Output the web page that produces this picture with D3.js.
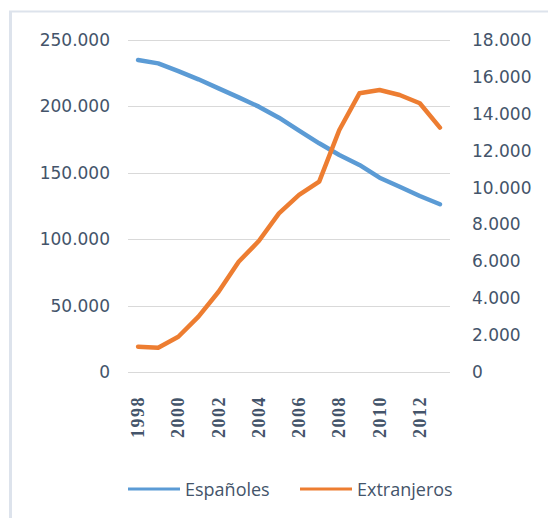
<!DOCTYPE html>
<html>
<head>
<meta charset="utf-8">
<script src="https://cdn.jsdelivr.net/npm/d3@7"></script>
<style>
  body { margin: 0; background: #fff; }
  svg { display: block; }
</style>
</head>
<body>
<svg id="chart" width="548" height="518"></svg>
<script>

const years = d3.range(1998, 2014);
const espanoles = [234900, 232400, 226600, 220400, 213600, 206800, 199800, 191500,
                   181700, 172200, 163400, 155900, 146300, 139500, 132500, 126300];
const extranjeros = [1370, 1320, 1910, 3000, 4350, 5980, 7100, 8600,
                     9600, 10320, 13120, 15110, 15290, 15020, 14570, 13250];
const leftTicks = [0, 50000, 100000, 150000, 200000, 250000];
const rightTicks = d3.range(0, 18001, 2000);
const yearTicks = [1998, 2000, 2002, 2004, 2006, 2008, 2010, 2012];

const textColor = "#44546a";
const gridColor = "#d9d9d9";

let svg = d3.select("#chart");

// frame edges
svg.append("line")
    .attr("x1", 10.5).attr("x2", 10.5).attr("y1", 11).attr("y2", 518)
    .attr("stroke", "#dde3ec").attr("stroke-width", 3);
svg.append("line")
    .attr("x1", 9).attr("x2", 548).attr("y1", 11.5).attr("y2", 11.5)
    .attr("stroke", "#dde3ec").attr("stroke-width", 2);

const x = d3.scaleBand().domain(years).range([128, 450]);
const cx = d => x(d) + x.bandwidth() / 2;
const yL = d3.scaleLinear().domain([0, 250000]).range([372, 40]);
const yR = d3.scaleLinear().domain([0, 18000]).range([372, 40]);

const fmt = v => v === 0 ? "0" : d3.format(",.0f")(v).replace(/,/g, ".");

// gridlines
svg.append("g")
    .selectAll("line")
    .data(leftTicks)
    .join("line")
    .attr("x1", 128).attr("x2", 450)
    .attr("y1", d => Math.round(yL(d)) + 0.5)
    .attr("y2", d => Math.round(yL(d)) + 0.5)
    .attr("stroke", gridColor).attr("stroke-width", 1);

// left axis
let gl = svg.append("g")
    .attr("transform", "translate(110,0)")
    .call(d3.axisLeft(yL).tickValues(leftTicks).tickFormat(fmt).tickSize(0).tickPadding(0));
gl.select(".domain").remove();
gl.selectAll("text")
    .attr("fill", textColor)
    .style("font-family", "'DejaVu Sans', sans-serif")
    .style("font-size", "17px");

// right axis
let gr = svg.append("g")
    .attr("transform", "translate(472,0)")
    .call(d3.axisRight(yR).tickValues(rightTicks).tickFormat(fmt).tickSize(0).tickPadding(0));
gr.select(".domain").remove();
gr.selectAll("text")
    .attr("fill", textColor)
    .style("font-family", "'DejaVu Sans', sans-serif")
    .style("font-size", "17px");

// year labels
svg.append("g")
    .selectAll("text")
    .data(yearTicks)
    .join("text")
    .attr("transform", d => `translate(${cx(d) + 6},438) rotate(-90)`)
    .attr("fill", textColor)
    .style("font-family", "'Liberation Serif', 'DejaVu Serif', serif")
    .style("font-size", "18px")
    .style("font-weight", "bold")
    .style("letter-spacing", "1.5px")
    .text(d => d);

// lines
const lineL = d3.line().x((d, i) => cx(years[i])).y(d => yL(d));
const lineR = d3.line().x((d, i) => cx(years[i])).y(d => yR(d));

svg.append("path")
    .datum(espanoles)
    .attr("d", lineL)
    .attr("fill", "none")
    .attr("stroke", "#5b9bd5")
    .attr("stroke-width", 4.5)
    .attr("stroke-linejoin", "round")
    .attr("stroke-linecap", "round");

svg.append("path")
    .datum(extranjeros)
    .attr("d", lineR)
    .attr("fill", "none")
    .attr("stroke", "#ed7d31")
    .attr("stroke-width", 4.5)
    .attr("stroke-linejoin", "round")
    .attr("stroke-linecap", "round");

// legend
const legend = [
    { name: "Españoles", color: "#5b9bd5", x: 128 },
    { name: "Extranjeros", color: "#ed7d31", x: 300 }
];
let lg = svg.append("g").selectAll("g").data(legend).join("g")
    .attr("transform", d => `translate(${d.x},489)`);
lg.append("line")
    .attr("x1", 0).attr("x2", 52)
    .attr("stroke", d => d.color).attr("stroke-width", 3);
lg.append("text")
    .attr("x", 57).attr("y", 7)
    .attr("fill", textColor)
    .style("font-family", "'Open Sans', 'DejaVu Sans', sans-serif")
    .style("font-size", "18px")
    .text(d => d.name);

</script>
</body>
</html>
